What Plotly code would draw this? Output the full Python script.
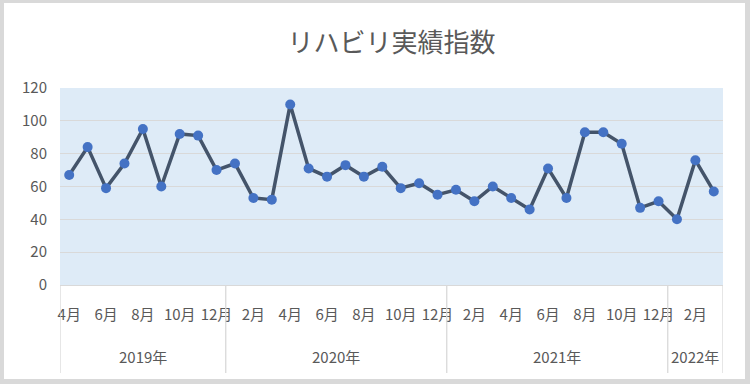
import plotly.graph_objects as go

# ---- data ----
months = ["4月", "5月", "6月", "7月", "8月", "9月", "10月", "11月", "12月",
          "1月", "2月", "3月", "4月", "5月", "6月", "7月", "8月", "9月", "10月", "11月", "12月",
          "1月", "2月", "3月", "4月", "5月", "6月", "7月", "8月", "9月", "10月", "11月", "12月",
          "1月", "2月", "3月"]
years = ["2019年"] * 9 + ["2020年"] * 12 + ["2021年"] * 12 + ["2022年"] * 3
values = [67, 84, 59, 74, 95, 60, 92, 91, 70,
          74, 53, 52, 110, 71, 66, 73, 66, 72, 59, 62, 55,
          58, 51, 60, 53, 46, 71, 53, 93, 93, 86, 47, 51,
          40, 76, 57]
y_ticks = [0, 20, 40, 60, 80, 100, 120]

FONT = "Noto Sans CJK JP"
GRAY_TXT = "#595959"
GRID = "#d9d9d9"

x = list(range(len(values)))

fig = go.Figure()
fig.add_trace(go.Scatter(
    x=x, y=values, mode="lines+markers",
    line=dict(color="#44546a", width=3.5),
    marker=dict(color="#4472c4", size=10),
    hoverinfo="skip", showlegend=False,
))

# month ticks every other category
tickvals = x[::2]
ticktext = [months[i] for i in tickvals]

# year groups
groups = []
start = 0
for i in range(1, len(years) + 1):
    if i == len(years) or years[i] != years[start]:
        groups.append((years[start], start, i - 1))
        start = i

ML, MR, MT, MB = 60, 27, 88, 99
W, H = 750, 384
pw, ph = W - ML - MR, H - MT - MB

def px_x(p):
    return (p - ML) / pw

def px_y(p):
    return (H - MB - p) / ph

shapes = []
annotations = []
bottom_div = px_y(373)
year_y = px_y(356)
bounds = [g[1] - 0.5 for g in groups] + [groups[-1][2] + 0.5]
for b in bounds:
    shapes.append(dict(type="line", xref="x", yref="paper", x0=b, x1=b,
                       y0=0, y1=bottom_div, line=dict(color=GRID, width=1.3)))
for name, s, e in groups:
    annotations.append(dict(x=(s + e) / 2, y=year_y, xref="x", yref="paper",
                            xanchor="center", yanchor="middle",
                            text=name, showarrow=False,
                            font=dict(family=FONT, size=15, color=GRAY_TXT)))

# outer gray frame
frame = "#d9d9d9"
for (x0, x1, y0, y1) in [(0, 4, 0, H), (745, W, 0, H), (0, W, 0, 3), (0, W, 379, H)]:
    shapes.append(dict(type="rect", xref="paper", yref="paper",
                       x0=px_x(x0), x1=px_x(x1), y0=px_y(y1), y1=px_y(y0),
                       fillcolor=frame, line=dict(width=0), layer="above"))

fig.update_layout(
    width=W, height=H,
    margin=dict(l=ML, r=MR, t=MT, b=MB),
    paper_bgcolor="white",
    plot_bgcolor="#deebf7",
    title=dict(text="リハビリ実績指数", x=0.5, xref="paper", xanchor="center",
               y=1 - 43 / H, yanchor="middle",
               font=dict(family=FONT, size=26, color=GRAY_TXT)),
    xaxis=dict(range=[-0.5, len(values) - 0.5], tickvals=tickvals, ticktext=ticktext,
               showgrid=False, zeroline=False, showline=True, linecolor=GRID,
               linewidth=1.3, ticks="", ticklabelstandoff=16,
               tickfont=dict(family=FONT, size=15, color=GRAY_TXT), fixedrange=True),
    yaxis=dict(range=[0, 120], tickvals=y_ticks, showgrid=True, gridcolor=GRID,
               gridwidth=1.3, zeroline=False, showline=False, ticks="",
               ticklabelstandoff=12,
               tickfont=dict(family=FONT, size=15, color=GRAY_TXT), fixedrange=True),
    shapes=shapes,
    annotations=annotations,
)

fig.write_html("out.html", config={"displayModeBar": False},
               post_script="document.body.style.margin='0';document.body.style.padding='0';")
